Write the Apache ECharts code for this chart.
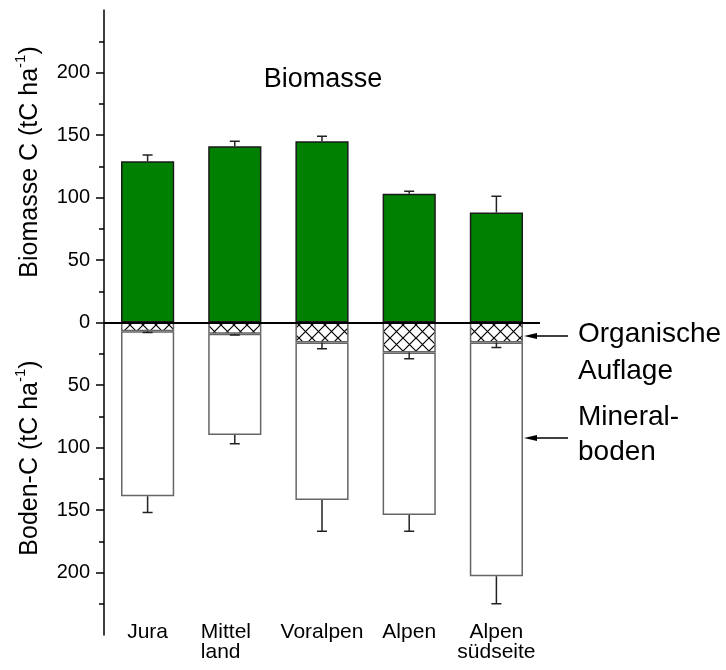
<!DOCTYPE html>
<html>
<head>
<meta charset="utf-8">
<script src="https://cdn.jsdelivr.net/npm/echarts@6/dist/echarts.min.js"></script>
<style>
  html, body { margin: 0; padding: 0; background: #fff; }
  #chart { width: 726px; height: 670px; }
</style>
</head>
<body>
<div id="chart"></div>
<script>
// Carbon stocks per region (tC/ha): biomass above zero, soil below
const categories = ['Jura', 'Mittel\nland', 'Voralpen', 'Alpen', 'Alpen\nsüdseite'];
const biomass = [129, 141, 145, 103, 88];
const biomassErr = [5, 4, 4, 2, 13];
const organic = [7, 9, 16, 24, 16];          // organic layer
const organicErr = [1, 1, 5, 5, 4];
const mineral = [132, 81, 126, 130, 187];     // mineral soil
const mineralErr = [13, 7, 25, 13, 22];
const yTicks = [-200, -150, -100, -50, 0, 50, 100, 150, 200];

const FONT = '"Liberation Sans", Arial, sans-serif';

// cross-hatch fill for the organic layer
function hatchPattern() {
  const s = 13;
  const c = document.createElement('canvas');
  c.width = s; c.height = s;
  const g = c.getContext('2d');
  g.fillStyle = '#fff';
  g.fillRect(0, 0, s, s);
  g.strokeStyle = '#000';
  g.lineWidth = 1.2;
  g.beginPath();
  g.moveTo(0, 0); g.lineTo(s, s);
  g.moveTo(s, 0); g.lineTo(0, s);
  g.stroke();
  return c;
}

// error bar rows: [category index, bar end, whisker end]
const errBiomass = biomass.map((v, i) => [i, v, v + biomassErr[i]]);
const errOrganic = organic.map((v, i) => [i, -v, -(v + organicErr[i])]);
const errMineral = mineral.map((v, i) => [i, -(organic[i] + v), -(organic[i] + v + mineralErr[i])]);

function renderErr(params, api) {
  const i = api.value(0);
  const a = api.coord([i, api.value(1)]);
  const b = api.coord([i, api.value(2)]);
  const st = { stroke: '#222', lineWidth: 1.5 };
  return {
    type: 'group',
    children: [
      { type: 'line', shape: { x1: a[0], y1: a[1], x2: b[0], y2: b[1] }, style: st },
      { type: 'line', shape: { x1: b[0] - 5, y1: b[1], x2: b[0] + 5, y2: b[1] }, style: st }
    ]
  };
}

function errSeries(data) {
  return {
    type: 'custom',
    renderItem: renderErr,
    data: data,
    encode: { x: 0, y: [1, 2] },
    z: 5,
    silent: true
  };
}

// two-line labels: "Mittel/land" is set flush left, the rest centred
function categoryLabel(name) {
  if (name === 'Mittel\nland') {
    return name.split('\n').map(s => '{left|' + s + '}').join('\n');
  }
  return name;
}

const chart = echarts.init(document.getElementById('chart'), null, { renderer: 'canvas' });

chart.setOption({
  animation: false,
  backgroundColor: '#fff',
  textStyle: { fontFamily: FONT },
  grid: { left: 104, right: 186, top: 10, bottom: 35 },
  xAxis: {
    type: 'category',
    data: categories,
    axisLine: { show: false },
    axisTick: { show: false },
    axisLabel: {
      interval: 0,
      color: '#000',
      fontSize: 21,
      lineHeight: 20,
      margin: -13,
      fontFamily: FONT,
      formatter: categoryLabel,
      rich: {
        left: { width: 68, align: 'left', fontSize: 21, lineHeight: 20, color: '#000', fontFamily: FONT }
      }
    }
  },
  yAxis: {
    type: 'value',
    min: -250,
    max: 250,
    interval: 50,
    axisLine: { show: true, lineStyle: { color: '#000', width: 1.5 } },
    axisTick: { show: true, length: 8, customValues: yTicks, lineStyle: { color: '#000', width: 1.5 } },
    minorTick: { show: true, splitNumber: 2, length: 5, lineStyle: { color: '#000', width: 1.5 } },
    splitLine: { show: false },
    axisLabel: {
      color: '#000',
      fontSize: 20,
      margin: 14,
      fontFamily: FONT,
      customValues: yTicks,
      formatter: v => String(Math.abs(v))
    }
  },
  series: [
    {
      name: 'Biomasse',
      type: 'bar',
      stack: 'c',
      barWidth: '61%',
      data: biomass,
      itemStyle: { color: '#008000', borderColor: '#1a1a1a', borderWidth: 1.5 },
      markLine: {
        silent: true,
        symbol: ['none', 'none'],
        label: { show: false },
        lineStyle: { color: '#000', width: 2, type: 'solid' },
        data: [{ yAxis: 0 }],
        z: 10
      }
    },
    {
      name: 'Organische Auflage',
      type: 'bar',
      stack: 'c',
      data: organic.map(v => -v),
      itemStyle: {
        color: { image: hatchPattern(), repeat: 'repeat' },
        borderColor: '#666',
        borderWidth: 1.5
      }
    },
    {
      name: 'Mineralboden',
      type: 'bar',
      stack: 'c',
      data: mineral.map(v => -v),
      itemStyle: { color: '#fff', borderColor: '#666', borderWidth: 1.5 }
    },
    errSeries(errBiomass),
    errSeries(errOrganic),
    errSeries(errMineral)
  ],
  graphic: [
    {
      type: 'text', x: 323, y: 80,
      style: { text: 'Biomasse', font: '27px ' + FONT, fill: '#000', align: 'center', verticalAlign: 'middle' }
    },
    {
      type: 'text', x: 28, y: 162, rotation: Math.PI / 2,
      style: {
        text: '{a|Biomasse C (tC ha}{s|-1}{a|)}',
        align: 'center', verticalAlign: 'middle',
        rich: {
          a: { fontSize: 25, fontFamily: FONT, fill: '#000', lineHeight: 30, verticalAlign: 'bottom' },
          s: { fontSize: 15, fontFamily: FONT, fill: '#000', lineHeight: 30, verticalAlign: 'top', padding: [0, 0, 14, 0] }
        }
      }
    },
    {
      type: 'text', x: 28, y: 458, rotation: Math.PI / 2,
      style: {
        text: '{a|Boden-C (tC ha}{s|-1}{a|)}',
        align: 'center', verticalAlign: 'middle',
        rich: {
          a: { fontSize: 25, fontFamily: FONT, fill: '#000', lineHeight: 30, verticalAlign: 'bottom' },
          s: { fontSize: 15, fontFamily: FONT, fill: '#000', lineHeight: 30, verticalAlign: 'top', padding: [0, 0, 14, 0] }
        }
      }
    },
    {
      type: 'text', x: 578, y: 353,
      style: { text: 'Organische\nAuflage', font: '28px ' + FONT, lineHeight: 37, fill: '#000', align: 'left', verticalAlign: 'middle' }
    },
    {
      type: 'text', x: 578, y: 435,
      style: { text: 'Mineral-\nboden', font: '28px ' + FONT, lineHeight: 35, fill: '#000', align: 'left', verticalAlign: 'middle' }
    },
    // pointer arrows
    { type: 'line', shape: { x1: 534, y1: 336, x2: 568, y2: 336 }, style: { stroke: '#000', lineWidth: 1.3 } },
    { type: 'polygon', shape: { points: [[524, 336], [537, 333], [537, 339]] }, style: { fill: '#000' } },
    { type: 'line', shape: { x1: 534, y1: 438, x2: 568, y2: 438 }, style: { stroke: '#000', lineWidth: 1.3 } },
    { type: 'polygon', shape: { points: [[524, 438], [537, 435], [537, 441]] }, style: { fill: '#000' } }
  ]
});
</script>
</body>
</html>
